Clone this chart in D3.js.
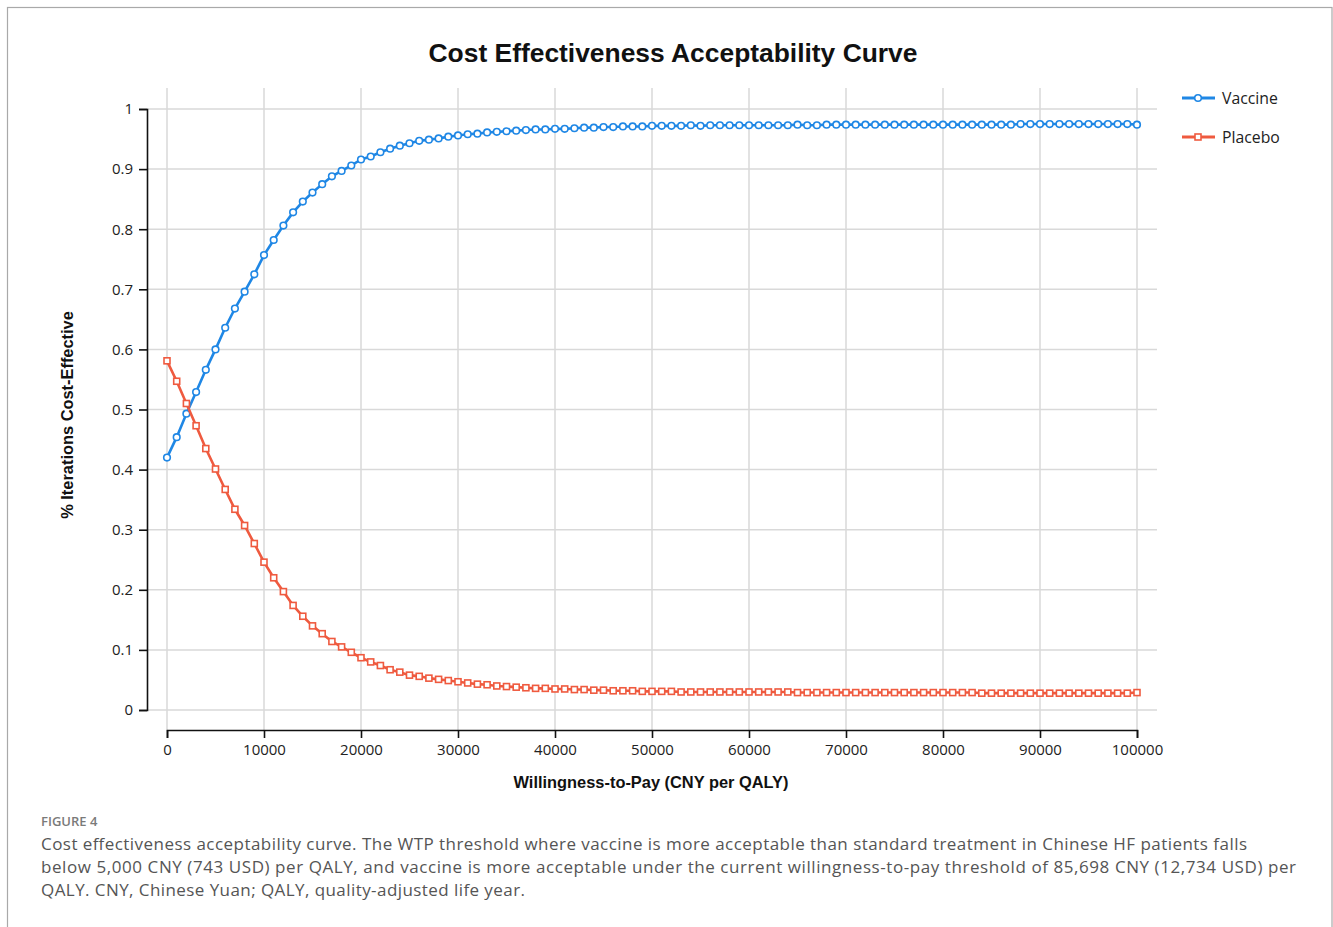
<!DOCTYPE html>
<html>
<head>
<meta charset="utf-8">
<script src="https://cdn.jsdelivr.net/npm/d3@7"></script>
<style>
  body { margin: 0; background: #fff; }
  svg text { font-family: "Open Sans", "Noto Sans", sans-serif; }
</style>
</head>
<body>
<div id="chart"></div>
<script>
// willingness-to-pay thresholds (CNY per QALY), every 1000
var wtp = d3.range(0, 100001, 1000)

var vaccine = [
  0.420, 0.454, 0.493, 0.529, 0.566, 0.600, 0.636, 0.668, 0.696, 0.725,
  0.757, 0.782, 0.806, 0.828, 0.846, 0.861, 0.875, 0.888, 0.897, 0.906,
  0.916, 0.921, 0.928, 0.934, 0.939, 0.943, 0.947, 0.949, 0.951, 0.954,
  0.956, 0.958, 0.959, 0.961, 0.962, 0.963, 0.964, 0.965, 0.966, 0.966,
  0.967, 0.967, 0.968, 0.969, 0.969, 0.970, 0.970, 0.971, 0.971, 0.971,
  0.972, 0.972, 0.972, 0.972, 0.973, 0.972, 0.973, 0.973, 0.973, 0.973,
  0.973, 0.973, 0.973, 0.973, 0.973, 0.974, 0.973, 0.973, 0.974, 0.974,
  0.974, 0.974, 0.974, 0.974, 0.974, 0.974, 0.974, 0.974, 0.974, 0.974,
  0.974, 0.974, 0.974, 0.974, 0.974, 0.974, 0.974, 0.974, 0.975, 0.975,
  0.975, 0.975, 0.975, 0.975, 0.975, 0.975, 0.975, 0.975, 0.975, 0.975,
  0.974
]

var placebo = [
  0.581, 0.547, 0.510, 0.473, 0.435, 0.401, 0.367, 0.334, 0.307, 0.277,
  0.246, 0.220, 0.197, 0.174, 0.156, 0.140, 0.127, 0.114, 0.105, 0.096,
  0.087, 0.080, 0.074, 0.067, 0.063, 0.058, 0.056, 0.053, 0.051, 0.049,
  0.047, 0.045, 0.043, 0.042, 0.040, 0.039, 0.038, 0.037, 0.036, 0.036,
  0.035, 0.035, 0.034, 0.034, 0.033, 0.033, 0.032, 0.032, 0.032, 0.031,
  0.031, 0.031, 0.031, 0.030, 0.030, 0.030, 0.030, 0.030, 0.030, 0.030,
  0.030, 0.030, 0.030, 0.030, 0.030, 0.029, 0.029, 0.029, 0.029, 0.029,
  0.029, 0.029, 0.029, 0.029, 0.029, 0.029, 0.029, 0.029, 0.029, 0.029,
  0.029, 0.029, 0.029, 0.029, 0.028, 0.028, 0.028, 0.028, 0.028, 0.028,
  0.028, 0.028, 0.028, 0.028, 0.028, 0.028, 0.028, 0.028, 0.028, 0.028,
  0.029
]

var xTicks = d3.range(0, 100001, 10000)
var yTicks = [0, 0.1, 0.2, 0.3, 0.4, 0.5, 0.6, 0.7, 0.8, 0.9, 1]

var seriesNames = ["Vaccine", "Placebo"]
var seriesColors = ["#1f87e5", "#ef5a3f"]

var captionLines = [
  "Cost effectiveness acceptability curve. The WTP threshold where vaccine is more acceptable than standard treatment in Chinese HF patients falls",
  "below 5,000 CNY (743 USD) per QALY, and vaccine is more acceptable under the current willingness-to-pay threshold of 85,698 CNY (12,734 USD) per",
  "QALY. CNY, Chinese Yuan; QALY, quality-adjusted life year."
]
var captionWidths = [1206, 1255, 484]

var width = 1333
var height = 927

var svg = d3.select("#chart")
  .append("svg")
  .attr("width", width)
  .attr("height", height)

// outer frame
svg.append("rect")
  .attr("x", 7.5).attr("y", 7.5)
  .attr("width", 1324.5).attr("height", 940)
  .attr("fill", "none")
  .attr("stroke", "#a9a9a9")
  .attr("stroke-width", 1.2)

var x = d3.scaleLinear().domain([0, 100000]).range([167, 1137])
var y = d3.scaleLinear().domain([0, 1]).range([710, 109])

// grid
var grid = svg.append("g")
grid.selectAll(".vg")
  .data(xTicks)
  .join("line")
  .attr("x1", d => x(d)).attr("x2", d => x(d))
  .attr("y1", 88).attr("y2", 730)
  .attr("stroke", "#d9d9d9").attr("stroke-width", 1.5)
grid.selectAll(".hg")
  .data(yTicks)
  .join("line")
  .attr("x1", 147).attr("x2", 1157)
  .attr("y1", d => y(d)).attr("y2", d => y(d))
  .attr("stroke", "#d9d9d9").attr("stroke-width", 1.5)

// axes
var xAxis = svg.append("g")
  .attr("transform", "translate(0,730)")
  .call(d3.axisBottom(x).tickValues(xTicks).tickFormat(d3.format("d")).tickSize(8).tickPadding(6))
var yAxis = svg.append("g")
  .attr("transform", "translate(147,0)")
  .call(d3.axisLeft(y).tickValues(yTicks).tickFormat(d => d === 0 || d === 1 ? d : d.toFixed(1)).tickSize(8).tickPadding(6))

;[xAxis, yAxis].forEach(function(a) {
  a.selectAll("path, line").attr("stroke", "#111").attr("stroke-width", 1.6)
  a.selectAll("text").attr("fill", "#222").style("font-size", "15px")
})

// series
var data = [vaccine, placebo]
data.forEach(function(vals, i) {
  var pts = wtp.map((w, j) => [w, vals[j]])
  svg.append("path")
    .datum(pts)
    .attr("fill", "none")
    .attr("stroke", seriesColors[i])
    .attr("stroke-width", 2.6)
    .attr("d", d3.line().x(d => x(d[0])).y(d => y(d[1])))
  if (i == 0) {
    svg.append("g").selectAll("circle")
      .data(pts)
      .join("circle")
      .attr("cx", d => x(d[0])).attr("cy", d => y(d[1]))
      .attr("r", 3.3)
      .attr("fill", "#fff")
      .attr("stroke", seriesColors[i]).attr("stroke-width", 1.6)
  } else {
    svg.append("g").selectAll("rect")
      .data(pts)
      .join("rect")
      .attr("x", d => x(d[0]) - 3).attr("y", d => y(d[1]) - 3)
      .attr("width", 6).attr("height", 6)
      .attr("fill", "#fff")
      .attr("stroke", seriesColors[i]).attr("stroke-width", 1.6)
  }
})

// title and axis titles
svg.append("text")
  .attr("x", 673).attr("y", 62)
  .attr("text-anchor", "middle")
  .style("font-family", "'Liberation Sans', Arial, sans-serif")
  .style("font-weight", "bold").style("font-size", "26.4px")
  .attr("fill", "#111")
  .text("Cost Effectiveness Acceptability Curve")

svg.append("text")
  .attr("x", 651).attr("y", 788)
  .attr("text-anchor", "middle")
  .style("font-family", "'Liberation Sans', Arial, sans-serif")
  .style("font-weight", "bold").style("font-size", "16.4px")
  .attr("fill", "#111")
  .text("Willingness-to-Pay (CNY per QALY)")

svg.append("text")
  .attr("transform", "translate(73,415) rotate(-90)")
  .attr("text-anchor", "middle")
  .style("font-family", "'Liberation Sans', Arial, sans-serif")
  .style("font-weight", "bold").style("font-size", "16.4px")
  .attr("fill", "#111")
  .text("% Iterations Cost-Effective")

// legend
var legend = svg.append("g").selectAll("g")
  .data(seriesNames)
  .join("g")
  .attr("transform", (d, i) => "translate(1182," + (98 + i * 39) + ")")
legend.append("line")
  .attr("x1", 0).attr("x2", 33)
  .attr("stroke", (d, i) => seriesColors[i]).attr("stroke-width", 3)
legend.each(function(d, i) {
  var g = d3.select(this)
  if (i == 0) {
    g.append("circle").attr("cx", 16).attr("r", 3.3)
      .attr("fill", "#fff").attr("stroke", seriesColors[i]).attr("stroke-width", 1.6)
  } else {
    g.append("rect").attr("x", 13).attr("y", -3).attr("width", 6).attr("height", 6)
      .attr("fill", "#fff").attr("stroke", seriesColors[i]).attr("stroke-width", 1.6)
  }
})
legend.append("text")
  .attr("x", 40).attr("y", 6)
  .style("font-size", "15.8px")
  .attr("fill", "#222")
  .text(d => d)

// caption
svg.append("text")
  .attr("x", 41).attr("y", 826)
  .style("font-size", "13px")
  .style("font-weight", "600")
  .attr("fill", "#7a7a7a")
  .text("FIGURE 4")

svg.append("g").selectAll("text")
  .data(captionLines)
  .join("text")
  .attr("x", 41).attr("y", (d, i) => 850 + i * 23)
  .attr("textLength", (d, i) => captionWidths[i])
  .attr("lengthAdjust", "spacing")
  .style("font-size", "17px")
  .attr("fill", "#555")
  .text(d => d)
</script>
</body>
</html>
